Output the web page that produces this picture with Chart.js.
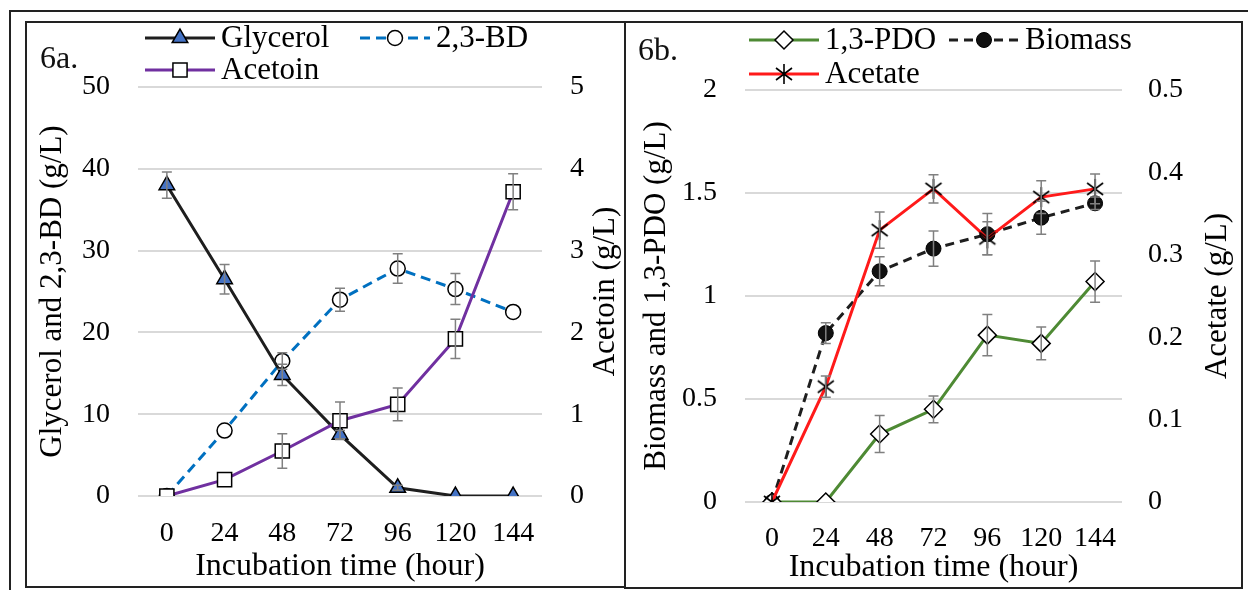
<!DOCTYPE html>
<html>
<head>
<meta charset="utf-8">
<script src="https://cdn.jsdelivr.net/npm/chart.js@4.4.1/dist/chart.umd.min.js"></script>
<style>
  html, body { margin: 0; padding: 0; background: #fff; }
  body { width: 1248px; height: 590px; position: relative; overflow: hidden;
         font-family: 'Liberation Serif', 'Times New Roman', serif; }
  #frame { position: absolute; left: 9px; top: 10px; width: 1240px; height: 600px;
           border-top: 2px solid #222; border-left: 2px solid #222; }
  .panel { position: absolute; border: 2px solid #222; box-sizing: border-box; background: #fff; }
  #panelA { left: 25px; top: 21px; width: 601px; height: 567px; }
  #panelB { left: 624px; top: 21px; width: 619px; height: 568px; }
  .panel canvas { position: absolute; left: 0; top: 0; }
  .tag { position: absolute; font-size: 32px; line-height: 32px; color: #111; }
</style>
</head>
<body>
<div id="frame"></div>
<div class="panel" id="panelA"><canvas id="chartA" width="597" height="563"></canvas></div>
<div class="panel" id="panelB"><canvas id="chartB" width="615" height="564"></canvas></div>
<div class="tag" style="left:40px; top:41px;">6a.</div>
<div class="tag" style="left:638px; top:33px;">6b.</div>

<script>
'use strict';

/*************************** données ***************************/
var hours = ['0', '24', '48', '72', '96', '120', '144'];

// 6a.
var glycerol = [38, 26.5, 14.8, 7.5, 1, 0, 0];
var glycerolErr = [1.6, 1.8, 1.3, 0.5, 0.3, 0, 0];
var butanediol = [0, 8, 16.5, 24, 27.8, 25.3, 22.5];
var butanediolErr = [0, 0, 1, 1.4, 1.8, 1.9, 0];
var acetoin = [0, 0.2, 0.55, 0.92, 1.12, 1.92, 3.72];
var acetoinErr = [0, 0, 0.21, 0.23, 0.2, 0.24, 0.22];

// 6b.
var pdo = [0, 0, 0.33, 0.45, 0.81, 0.77, 1.07];
var pdoErr = [0, 0, 0.09, 0.065, 0.1, 0.08, 0.1];
var biomass = [0, 0.82, 1.12, 1.23, 1.3, 1.38, 1.45];
var biomassErr = [0, 0.05, 0.07, 0.085, 0.1, 0.08, 0.03];
var acetate = [0, 0.14, 0.33, 0.38, 0.32, 0.37, 0.38];
var acetateErr = [0, 0.013, 0.022, 0.017, 0.02, 0.02, 0.018];

/*************************** réglages communs ***************************/
Chart.defaults.font.family = "'Liberation Serif', 'Times New Roman', serif";
Chart.defaults.color = '#000';

var GRID = '#d9d9d9';
var ERR = '#808080';

// astérisque façon Excel (6 branches)
function makeAsterisk() {
  var c = document.createElement('canvas');
  c.width = 20; c.height = 22;
  var g = c.getContext('2d');
  g.strokeStyle = '#000';
  g.lineWidth = 1.6;
  g.beginPath();
  g.moveTo(10, 1); g.lineTo(10, 21);
  g.moveTo(2, 5); g.lineTo(18, 17);
  g.moveTo(2, 17); g.lineTo(18, 5);
  g.stroke();
  return c;
}
var asterisk = makeAsterisk();

// barres d'erreur
var errorBars = {
  id: 'errorBars',
  afterDatasetsDraw: function(chart) {
    var ctx = chart.ctx;
    chart.data.datasets.forEach(function(ds, i) {
      if (!ds.errors) return;
      var meta = chart.getDatasetMeta(i);
      var scale = chart.scales[ds.yAxisID];
      ctx.save();
      ctx.strokeStyle = ERR;
      ctx.lineWidth = 1.5;
      meta.data.forEach(function(pt, j) {
        var e = ds.errors[j];
        if (!e) return;
        var top = scale.getPixelForValue(ds.data[j] + e);
        var bot = scale.getPixelForValue(ds.data[j] - e);
        ctx.beginPath();
        ctx.moveTo(pt.x, top); ctx.lineTo(pt.x, bot);
        ctx.moveTo(pt.x - 5, top); ctx.lineTo(pt.x + 5, top);
        ctx.moveTo(pt.x - 5, bot); ctx.lineTo(pt.x + 5, bot);
        ctx.stroke();
      });
      ctx.restore();
    });
  }
};

// légende dessinée à la main (deux lignes comme sur la figure)
var sketchLegend = {
  id: 'sketchLegend',
  afterDraw: function(chart, args, opts) {
    var ctx = chart.ctx;
    opts.items.forEach(function(it) {
      var ds = chart.data.datasets[it.index];
      ctx.save();
      ctx.strokeStyle = ds.borderColor;
      ctx.lineWidth = ds.borderWidth;
      ctx.setLineDash(ds.borderDash || []);
      ctx.beginPath();
      ctx.moveTo(it.x, it.y);
      ctx.lineTo(it.x + 70, it.y);
      ctx.stroke();
      ctx.setLineDash([]);
      ctx.fillStyle = ds.pointBackgroundColor;
      ctx.strokeStyle = ds.pointBorderColor;
      ctx.lineWidth = ds.pointBorderWidth;
      Chart.helpers.drawPoint(ctx, {
        pointStyle: ds.pointStyle,
        radius: ds.pointRadius,
        borderWidth: ds.pointBorderWidth,
        rotation: 0
      }, it.x + 35, it.y);
      ctx.fillStyle = '#000';
      ctx.font = '31px ' + Chart.defaults.font.family;
      ctx.textBaseline = 'middle';
      ctx.fillText(ds.label, it.x + 76, it.y + 1);
      ctx.restore();
    });
  }
};

// titre de l'axe de droite, lu de bas en haut comme dans Excel
var rightTitle = {
  id: 'rightTitle',
  afterDraw: function(chart, args, opts) {
    var ctx = chart.ctx;
    var area = chart.chartArea;
    ctx.save();
    ctx.fillStyle = '#000';
    ctx.font = '31px ' + Chart.defaults.font.family;
    ctx.textAlign = 'center';
    ctx.textBaseline = 'middle';
    ctx.translate(opts.x, (area.top + area.bottom) / 2);
    ctx.rotate(-Math.PI / 2);
    ctx.fillText(opts.text, 0, 0);
    ctx.restore();
  }
};

function tickText(v) {
  return String(Math.round(v * 10) / 10);
}

function yAxis(pos, min, max, step, title, width, tickPad, titlePad, showGrid) {
  return {
    position: pos,
    min: min,
    max: max,
    ticks: { stepSize: step, padding: tickPad, font: { size: 28 }, callback: tickText },
    grid: { display: showGrid, color: GRID, lineWidth: 2, drawTicks: false },
    border: { display: false },
    title: { display: pos === 'left', text: title, font: { size: 31 }, padding: { top: titlePad, bottom: 0 } },
    afterFit: function(s) { s.width = width; }
  };
}

function xAxis(height, tickPad) {
  return {
    type: 'category',
    offset: true,
    grid: { display: false },
    border: { display: false },
    ticks: { padding: tickPad, font: { size: 28 }, maxRotation: 0, autoSkip: false },
    title: { display: true, text: 'Incubation time (hour)', font: { size: 32 }, padding: { top: 0, bottom: 0 } },
    afterFit: function(s) { s.height = height; }
  };
}

/*************************** 6a. ***************************/
var chartA = new Chart(document.getElementById('chartA').getContext('2d'), {
  type: 'line',
  data: {
    labels: hours,
    datasets: [
      {
        label: 'Acetoin', data: acetoin, errors: acetoinErr, yAxisID: 'y1',
        borderColor: '#7030a0', borderWidth: 3,
        pointStyle: 'rect', pointRadius: 10, pointBackgroundColor: '#fff',
        pointBorderColor: '#000', pointBorderWidth: 1.5
      },
      {
        label: 'Glycerol', data: glycerol, errors: glycerolErr, yAxisID: 'y',
        borderColor: '#1e1e1e', borderWidth: 3,
        pointStyle: 'triangle', pointRadius: 9, pointBackgroundColor: '#4472c4',
        pointBorderColor: '#000', pointBorderWidth: 1.5
      },
      {
        label: '2,3-BD', data: butanediol, errors: butanediolErr, yAxisID: 'y',
        borderColor: '#0070c0', borderWidth: 3, borderDash: [10, 6],
        pointStyle: 'circle', pointRadius: 7.5, pointBackgroundColor: '#fff',
        pointBorderColor: '#000', pointBorderWidth: 1.5
      }
    ]
  },
  options: {
    responsive: false,
    animation: false,
    layout: { padding: { top: 64, left: 0, right: 0, bottom: 0 } },
    elements: { line: { tension: 0 } },
    plugins: {
      legend: { display: false },
      tooltip: { enabled: false },
      sketchLegend: { items: [
        { index: 1, x: 118, y: 15 },
        { index: 2, x: 333, y: 15 },
        { index: 0, x: 118, y: 47 }
      ] },
      rightTitle: { text: 'Acetoin (g/L)', x: 579 }
    },
    scales: {
      x: xAxis(90, 13),
      y: yAxis('left', 0, 50, 10, 'Glycerol and 2,3-BD (g/L)', 111, 28, 7, true),
      y1: yAxis('right', 0, 5, 1, 'Acetoin (g/L)', 82, 28, 0, false)
    }
  },
  plugins: [errorBars, sketchLegend, rightTitle]
});

/*************************** 6b. ***************************/
var chartB = new Chart(document.getElementById('chartB').getContext('2d'), {
  type: 'line',
  data: {
    labels: hours,
    datasets: [
      {
        label: 'Acetate', data: acetate, errors: acetateErr, yAxisID: 'y1',
        borderColor: '#ff1a1a', borderWidth: 3,
        pointStyle: asterisk, pointRadius: 10, pointBackgroundColor: '#000',
        pointBorderColor: '#000', pointBorderWidth: 1.5
      },
      {
        label: '1,3-PDO', data: pdo, errors: pdoErr, yAxisID: 'y',
        borderColor: '#4e8a34', borderWidth: 3,
        pointStyle: 'rectRot', pointRadius: 9, pointBackgroundColor: '#fff',
        pointBorderColor: '#000', pointBorderWidth: 1.5
      },
      {
        label: 'Biomass', data: biomass, errors: biomassErr, yAxisID: 'y',
        borderColor: '#1e1e1e', borderWidth: 3, borderDash: [9, 6],
        pointStyle: 'circle', pointRadius: 7.5, pointBackgroundColor: '#111',
        pointBorderColor: '#000', pointBorderWidth: 1
      }
    ]
  },
  options: {
    responsive: false,
    animation: false,
    layout: { padding: { top: 67, left: 0, right: 0, bottom: 0 } },
    elements: { line: { tension: 0 } },
    plugins: {
      legend: { display: false },
      tooltip: { enabled: false },
      sketchLegend: { items: [
        { index: 1, x: 123, y: 17 },
        { index: 2, x: 323, y: 17 },
        { index: 0, x: 123, y: 51 }
      ] },
      rightTitle: { text: 'Acetate (g/L)', x: 592 }
    },
    scales: {
      x: xAxis(85, 12),
      y: yAxis('left', 0, 2, 0.5, 'Biomass and 1,3-PDO (g/L)', 119, 28, 12, true),
      y1: yAxis('right', 0, 0.5, 0.1, 'Acetate (g/L)', 119, 26, 4, false)
    }
  },
  plugins: [errorBars, sketchLegend, rightTitle]
});
</script>
</body>
</html>
